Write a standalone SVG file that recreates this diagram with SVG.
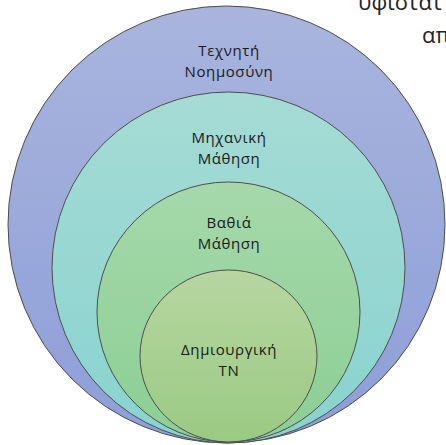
<svg xmlns="http://www.w3.org/2000/svg" width="446" height="445" viewBox="0 0 446 445">
<defs>
<linearGradient id="gBlue" x1="0" y1="0" x2="0" y2="1"><stop offset="0" stop-color="#a9b5dd"/><stop offset="1" stop-color="#8d9ed9"/></linearGradient>
<linearGradient id="gTeal" x1="0" y1="0" x2="0" y2="1"><stop offset="0" stop-color="#a6dbd5"/><stop offset="1" stop-color="#88d3cf"/></linearGradient>
<linearGradient id="gGreen" x1="0" y1="0" x2="0" y2="1"><stop offset="0" stop-color="#a6d8ab"/><stop offset="1" stop-color="#8bcf94"/></linearGradient>
<linearGradient id="gLight" x1="0" y1="0" x2="0" y2="1"><stop offset="0" stop-color="#b7d6a2"/><stop offset="1" stop-color="#9aca82"/></linearGradient>
</defs>
<style>
.ring{stroke:#4d4d4d;stroke-width:1}
.lbl{font-family:"Open Sans","Noto Sans","DejaVu Sans",sans-serif;font-size:15px;letter-spacing:0.6px;fill:#1a1a1a;text-anchor:middle}
.cap{font-family:"Open Sans","Noto Sans","DejaVu Sans",sans-serif;font-size:22px;fill:#222;text-anchor:start}
</style>
<rect width="446" height="445" fill="#ffffff"/>
<g id="ai">
<ellipse class="ring" cx="226.5" cy="224.5" rx="218.5" ry="218.5" fill="url(#gBlue)"/>
<text class="lbl" x="229" y="56">Τεχνητή</text>
<text class="lbl" x="229" y="77">Νοημοσύνη</text>
</g>
<g id="ml">
<ellipse class="ring" cx="228.5" cy="267.5" rx="176.5" ry="175.5" fill="url(#gTeal)"/>
<text class="lbl" x="229" y="142.5">Μηχανική</text>
<text class="lbl" x="229" y="163.5">Μάθηση</text>
</g>
<g id="dl">
<ellipse class="ring" cx="228.5" cy="312" rx="131.5" ry="130" fill="url(#gGreen)"/>
<text class="lbl" x="229" y="228">Βαθιά</text>
<text class="lbl" x="229" y="249">Μάθηση</text>
</g>
<g id="genai">
<ellipse class="ring" cx="228.5" cy="356" rx="88.5" ry="86" fill="url(#gLight)"/>
<text class="lbl" x="229" y="355">Δημιουργική</text>
<text class="lbl" x="229" y="376">ΤΝ</text>
</g>
<g id="connectors"></g>
<g id="caption">
<text class="cap" x="358" y="10">υφίστατ</text>
<text class="cap" x="422" y="43">απ</text>
</g>
</svg>
